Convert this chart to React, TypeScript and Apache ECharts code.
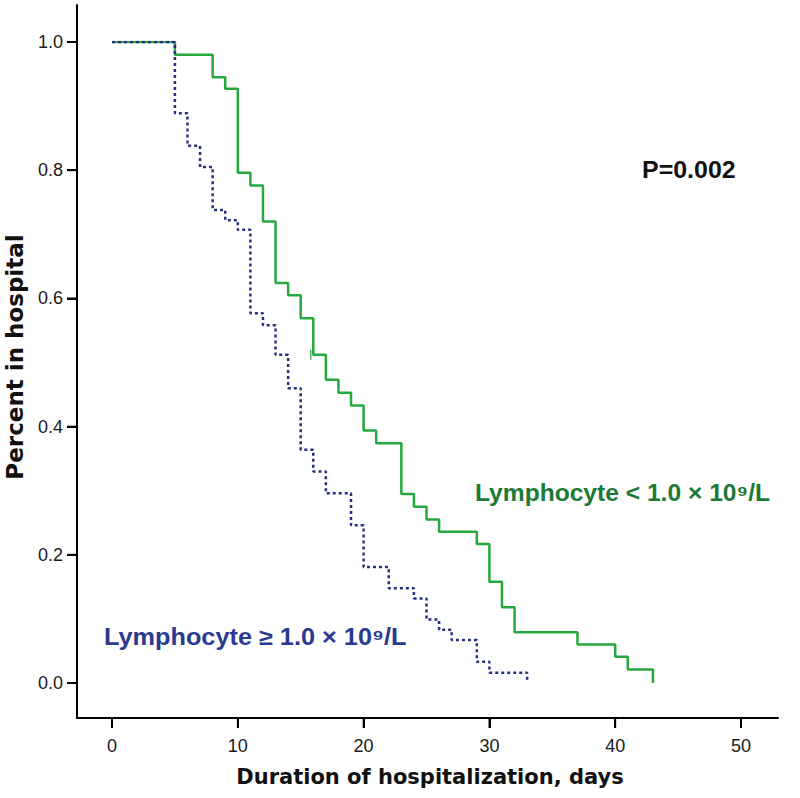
import React, { useEffect, useRef } from "react";
import * as echarts from "echarts";

// Kaplan–Meier: Lymphocyte < 1.0 × 10⁹/L (green, solid)
const lowDays = [0, 5, 8, 9, 10, 11, 12, 13, 14, 15, 16, 17, 18, 19, 20, 21, 23, 24, 25, 26, 29, 30, 31, 32, 37, 40, 41, 43];
const lowSurv = [1, 0.98, 0.945, 0.927, 0.796, 0.776, 0.72, 0.624, 0.605, 0.569, 0.512, 0.473, 0.453, 0.433, 0.394, 0.374, 0.295, 0.275, 0.255, 0.236, 0.217, 0.158, 0.118, 0.079, 0.06, 0.041, 0.021, 0.0];
// censored observation on the green curve
const lowCensorDays = [15.8];
const lowCensorSurv = [0.512];

// Kaplan–Meier: Lymphocyte ≥ 1.0 × 10⁹/L (blue, dotted)
const highDays = [0, 5, 6, 7, 8, 9, 10, 11, 12, 13, 14, 15, 16, 17, 19, 20, 22, 24, 25, 26, 27, 29, 30, 33];
const highSurv = [1, 0.889, 0.838, 0.805, 0.738, 0.722, 0.707, 0.577, 0.558, 0.512, 0.46, 0.364, 0.33, 0.296, 0.246, 0.181, 0.148, 0.132, 0.099, 0.083, 0.067, 0.033, 0.016, 0.002];

const xMin = 0, xMax = 50, xStep = 10;
const yMin = 0, yMax = 1, yStep = 0.2;
const xTickValues = [0, 10, 20, 30, 40, 50];
const yTickValues = [0, 0.2, 0.4, 0.6, 0.8, 1.0];

const xTitle = "Duration of hospitalization, days";
const yTitle = "Percent in hospital";
const pText = "P=0.002";
const lowLabel = "Lymphocyte < 1.0 × 10⁹/L";
const highLabel = "Lymphocyte ≥ 1.0 × 10⁹/L";

const GREEN = "#27a83f";
const GREEN_TEXT = "#1b7a35";
const BLUE = "#26307e";
const BLUE_TEXT = "#2a3991";

export default function App() {
  const ref = useRef<HTMLDivElement>(null);
  useEffect(() => {
    document.body.style.margin = "0";
    if (!ref.current) return;
    const chart = echarts.init(ref.current, undefined, { renderer: "svg" });
    const labelFont = "'Liberation Sans', Arial, sans-serif";
    const titleFont = "'DejaVu Sans', Verdana, sans-serif";
    const frameLine = { show: true, onZero: false, lineStyle: { color: "#000", width: 2 } };
    const off = { show: false };
    const TICK = 10;
    const tickStyle = { show: true, inside: false, length: TICK, lineStyle: { color: "#000", width: 2 } };
    chart.setOption({
      animation: false,
      backgroundColor: "#ffffff",
      grid: [
        // 0: frame (L-shaped axis lines)
        { left: 77, right: 22, top: 5, bottom: 80 },
        // 1: data area
        { left: 112, right: 59, top: 42, bottom: 115 },
        // 2: x labels/ticks along the bottom frame line
        { left: 112, right: 59, top: 42, bottom: 80 },
        // 3: y labels/ticks along the left frame line
        { left: 77, right: 59, top: 42, bottom: 115 },
      ],
      xAxis: [
        {
          gridIndex: 0, type: "value", min: 0, max: 1,
          axisLine: frameLine, axisTick: off, axisLabel: off, splitLine: off,
        },
        { gridIndex: 1, type: "value", min: xMin, max: xMax, show: false },
        {
          gridIndex: 2, type: "value", min: xMin, max: xMax, interval: xStep,
          axisLine: { show: false, onZero: false }, axisTick: tickStyle,
          axisLabel: { margin: 19, fontSize: 18, color: "#1a1a1a", fontFamily: labelFont },
          splitLine: off,
        },
        { gridIndex: 3, type: "value", min: 0, max: 1, show: false },
      ],
      yAxis: [
        {
          gridIndex: 0, type: "value", min: 0, max: 1,
          axisLine: frameLine, axisTick: off, axisLabel: off, splitLine: off,
        },
        { gridIndex: 1, type: "value", min: yMin, max: yMax, show: false },
        { gridIndex: 2, type: "value", min: 0, max: 1, show: false },
        {
          gridIndex: 3, type: "value", min: yMin, max: yMax, interval: yStep,
          axisLine: { show: false, onZero: false }, axisTick: tickStyle,
          axisLabel: {
            margin: 14, fontSize: 18, color: "#1a1a1a", fontFamily: labelFont,
            formatter: (v: number) => v.toFixed(1),
          },
          splitLine: off,
        },
      ],
      series: [
        {
          type: "line",
          xAxisIndex: 1, yAxisIndex: 1,
          step: "end",
          data: lowDays.map((d, i) => [d, lowSurv[i]]),
          showSymbol: false,
          lineStyle: { color: GREEN, width: 2.5 },
          z: 2,
        },
        {
          type: "scatter",
          xAxisIndex: 1, yAxisIndex: 1,
          data: lowCensorDays.map((d, i) => [d, lowCensorSurv[i]]),
          symbol: "rect",
          symbolSize: [1.5, 10],
          itemStyle: { color: GREEN },
          z: 2,
        },
        {
          type: "line",
          xAxisIndex: 1, yAxisIndex: 1,
          step: "end",
          data: highDays.map((d, i) => [d, highSurv[i]]),
          showSymbol: false,
          lineStyle: { color: BLUE, width: 2.5, type: [3, 3] },
          z: 3,
        },
        // x-axis tick marks on the bottom frame line, through the axis scale
        {
          type: "scatter",
          xAxisIndex: 2, yAxisIndex: 2,
          data: xTickValues.map((v) => [v, 0]),
          symbol: "rect",
          symbolSize: [2, TICK],
          symbolOffset: [0, TICK / 2],
          itemStyle: { color: "#000" },
          clip: false,
          silent: true,
          z: 6,
        },
        // y-axis tick marks on the left frame line, through the axis scale
        {
          type: "scatter",
          xAxisIndex: 3, yAxisIndex: 3,
          data: yTickValues.map((v) => [0, v]),
          symbol: "rect",
          symbolSize: [TICK, 2],
          symbolOffset: [-TICK / 2, 0],
          itemStyle: { color: "#000" },
          clip: false,
          silent: true,
          z: 6,
        },
      ],
      graphic: [
        {
          type: "text",
          x: 430,
          y: 777,
          style: {
            text: xTitle,
            align: "center",
            verticalAlign: "middle",
            fontSize: 21,
            fontWeight: "bold",
            fontFamily: titleFont,
            fill: "#111",
          },
        },
        {
          type: "text",
          x: 15,
          y: 357,
          rotation: Math.PI / 2,
          style: {
            text: yTitle,
            align: "center",
            verticalAlign: "middle",
            fontSize: 23,
            fontWeight: "bold",
            fontFamily: titleFont,
            fill: "#111",
          },
        },
        {
          type: "text",
          x: 642,
          y: 170,
          scaleX: 1.04,
          style: {
            text: pText,
            align: "left",
            verticalAlign: "middle",
            fontSize: 24,
            fontWeight: "bold",
            fontFamily: labelFont,
            fill: "#111",
          },
        },
        {
          type: "text",
          x: 475,
          y: 493,
          scaleX: 1.07,
          style: {
            text: lowLabel,
            align: "left",
            verticalAlign: "middle",
            fontSize: 23,
            fontWeight: "bold",
            fontFamily: labelFont,
            fill: GREEN_TEXT,
          },
        },
        {
          type: "text",
          x: 104,
          y: 637,
          scaleX: 1.1,
          style: {
            text: highLabel,
            align: "left",
            verticalAlign: "middle",
            fontSize: 23,
            fontWeight: "bold",
            fontFamily: labelFont,
            fill: BLUE_TEXT,
          },
        },
      ],
    });
    return () => chart.dispose();
  }, []);
  return <div ref={ref} style={{ width: 800, height: 798 }} />;
}
